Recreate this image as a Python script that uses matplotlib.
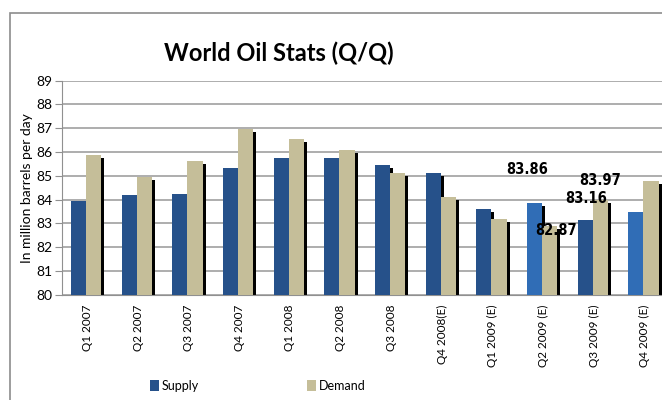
import numpy as np
import matplotlib
matplotlib.use("Agg")
import matplotlib.pyplot as plt
from matplotlib.patches import Rectangle

quarters = ["Q1 2007", "Q2 2007", "Q3 2007", "Q4 2007", "Q1 2008", "Q2 2008",
            "Q3 2008", "Q4 2008(E)", "Q1 2009 (E)", "Q2 2009 (E)", "Q3 2009 (E)",
            "Q4 2009 (E)"]
supply = [83.94, 84.19, 84.23, 85.33, 85.75, 85.75, 85.45, 85.12, 83.60, 83.86, 83.16, 83.48]
demand = [85.87, 84.96, 85.62, 86.98, 86.55, 86.08, 85.12, 84.11, 83.18, 82.87, 83.97, 84.77]

# quarters whose supply values get the lighter highlight
highlight = [9, 11]

# value labels: (quarter index, series, value)
labels = [(9, "supply", 83.86), (9, "demand", 82.87),
          (10, "supply", 83.16), (10, "demand", 83.97)]

dark_blue = "#26518a"
light_blue = "#306db6"
tan = "#c5be99"

plt.rcParams['font.family'] = ['Lato', 'DejaVu Sans']

fig = plt.figure(figsize=(6.62, 4.0), dpi=100)
ax = fig.add_axes([62 / 662, 1 - 294.7 / 400, 608 / 662, (294.7 - 80.7) / 400])

x = np.arange(len(quarters))
w = 0.3
off_s, off_d = -0.175, 0.125
dx, dy = 0.06, 0.126

s_colors = [light_blue if i in highlight else dark_blue for i in x]

# drop shadows behind each bar
ax.bar(x + off_s + dx, np.array(supply) - dy, w, bottom=0, color="black", zorder=2)
ax.bar(x + off_d + dx, np.array(demand) - dy, w, bottom=0, color="black", zorder=2)
ax.bar(x + off_s, supply, w, color=s_colors, zorder=3, label="Supply")
ax.bar(x + off_d, demand, w, color=tan, zorder=4, label="Demand")

ax.set_ylim(80, 89)
ax.set_xlim(-0.5, len(quarters) - 0.5)
ax.set_yticks(range(80, 90))
ax.yaxis.grid(True, color="#a0a0a0", linewidth=1.2, zorder=0)
ax.set_axisbelow(True)
for s in ["top", "right"]:
    ax.spines[s].set_visible(False)
ax.spines["left"].set_color("#909090")
ax.spines["bottom"].set_color("#909090")
ax.tick_params(axis="y", length=5, color="#909090", labelsize=10, pad=2)
ax.tick_params(axis="x", length=0, labelsize=8.5, pad=7)
ax.set_xticks(x)
ax.set_xticklabels(quarters, rotation=90)
ax.set_ylabel("In million barrels per day", fontsize=10, labelpad=2)

# value labels, shifted off the bars
label_pos = {(9, "supply"): (-0.31, 1.42), (9, "demand"): (0.26, -0.15),
             (10, "supply"): (-0.16, 0.90), (10, "demand"): (0.13, 0.85)}
for i, series, v in labels:
    ox, oy = label_pos[(i, series)]
    ax.text(i + ox, v + oy, f"{v:.2f}", ha="center", va="center",
            fontsize=10.5, fontweight="bold", fontstretch="condensed",
            family=["DejaVu Sans"], zorder=6)

fig.text(279 / 662, 1 - 53 / 400, "World Oil Stats (Q/Q)", ha="center", va="center",
         fontsize=17, fontweight="bold")

# legend entries
leg = fig.legend(loc="center left", bbox_to_anchor=(139 / 662, 1 - 386 / 400),
                 ncol=2, frameon=False, fontsize=9, handlelength=0.7,
                 handleheight=1.0, handletextpad=0.25, columnspacing=8.6)

# chart border
fig.add_artist(Rectangle((10 / 662, -0.05), 1.0, 1 - 13 / 400 + 0.05,
                         transform=fig.transFigure, fill=False,
                         edgecolor="#8c8c8c", linewidth=1.2))

fig.savefig("out.png", dpi=100)
